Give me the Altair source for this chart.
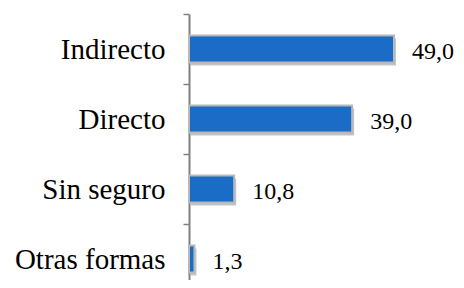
import altair as alt
import pandas as pd

categories = ["Indirecto", "Directo", "Sin seguro", "Otras formas"]
values = [49.0, 39.0, 10.8, 1.3]
labels = ["49,0", "39,0", "10,8", "1,3"]

df = pd.DataFrame({"cat": categories, "val": values, "lab": labels})

FONT = "Liberation Serif"
xscale = alt.Scale(domain=[0, 60], nice=False, zero=True)
yscale = alt.Scale(domain=categories, paddingInner=0, paddingOuter=0)

x = alt.X("val:Q", scale=xscale, axis=None)
y = alt.Y("cat:N", scale=yscale, sort=categories, title=None,
          axis=alt.Axis(labelFont=FONT, labelFontSize=29, labelColor="#000000",
                        labelPadding=18, tickSize=6, tickColor="#808080",
                        domainColor="#808080", domainWidth=2, tickWidth=1.5,
                        tickBand="extent", labelLimit=300))

shadow = alt.Chart(df).mark_bar(color="#555555", opacity=0.35, height=27, xOffset=2, x2Offset=3,
                                yOffset=3, y2Offset=4).encode(x=x, y=y)
bars = alt.Chart(df).mark_bar(color="#1a6cc6", stroke="#b8b8b8", strokeWidth=2, height=27).encode(x=x, y=y)
text = alt.Chart(df).mark_text(align="left", baseline="middle", dx=18, dy=3,
                               font=FONT, fontSize=24, color="#000000").encode(
    x=x, y=y, text="lab:N")

chart = alt.layer(shadow, bars, text).properties(
    width=251, height=280,
    background="white",
    autosize=alt.AutoSizeParams(type="none"),
    padding={"left": 181, "top": 6, "right": 16, "bottom": -14},
).configure_view(stroke=None)

chart.save("out.html", embed_options={"renderer": "svg", "actions": False})
